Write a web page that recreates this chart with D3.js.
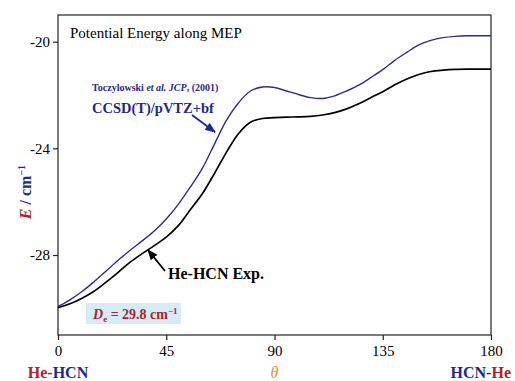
<!DOCTYPE html>
<html>
<head>
<meta charset="utf-8">
<script src="https://cdn.jsdelivr.net/npm/d3@7"></script>
<style>
  body { margin: 0; background: #fff; }
  text { font-family: "Liberation Serif", "Times New Roman", serif; }
</style>
</head>
<body>
<script>
// angle along the MEP (deg)
var theta = [0,5,10,15,20,25,30,35,40,45,50,55,60,65,70,75,80,85,90,95,100,105,110,115,120,125,130,135,140,145,150,155,160,165,170,175,180];
// CCSD(T)/pVTZ+bf (Toczylowski 2001)
var ccsd = [-29.93,-29.68,-29.37,-29.0,-28.6,-28.2,-27.82,-27.47,-27.1,-26.65,-26.1,-25.45,-24.75,-23.85,-22.95,-22.3,-21.85,-21.7,-21.72,-21.85,-21.98,-22.1,-22.13,-22.03,-21.85,-21.63,-21.35,-21.05,-20.7,-20.4,-20.12,-19.95,-19.85,-19.8,-19.78,-19.78,-19.78];
// He-HCN experiment
var expt = [-29.98,-29.83,-29.62,-29.36,-29.02,-28.65,-28.27,-27.95,-27.65,-27.33,-26.9,-26.3,-25.7,-24.95,-24.15,-23.45,-23.02,-22.88,-22.85,-22.83,-22.82,-22.8,-22.75,-22.66,-22.52,-22.33,-22.1,-21.88,-21.62,-21.4,-21.23,-21.12,-21.07,-21.04,-21.03,-21.03,-21.03];
var xTicks = [0,45,90,135,180];
var yTicks = [-20,-24,-28];

var width = 515, height = 381;
var pLeft = 58, pRight = 491, pTop = 15, pBottom = 335;

var svg = d3.select("body").append("svg")
    .attr("width", width)
    .attr("height", height);

var x = d3.scaleLinear().domain([0,180]).range([pLeft,pRight]);
var y = d3.scaleLinear().domain([-31,-19]).range([pBottom,pTop]);

var defs = svg.append("defs");
function marker(id, col){
  defs.append("marker")
    .attr("id", id)
    .attr("viewBox","0 0 10 10")
    .attr("refX",9).attr("refY",5)
    .attr("markerWidth",6).attr("markerHeight",6)
    .attr("orient","auto")
    .append("path").attr("d","M0,1 L10,5 L0,9 Z").attr("fill",col);
}
marker("ab","#1c2a8c");
marker("ak","#000");

// box
svg.append("rect")
    .attr("x",pLeft).attr("y",pTop)
    .attr("width",pRight-pLeft).attr("height",pBottom-pTop)
    .attr("fill","none").attr("stroke","#222").attr("stroke-width",1.2);

var xAxis = svg.append("g")
    .attr("transform","translate(0,"+pBottom+")")
    .call(d3.axisBottom(x).tickValues(xTicks).tickSize(5).tickPadding(5));
var yAxis = svg.append("g")
    .attr("transform","translate("+pLeft+",0)")
    .call(d3.axisLeft(y).tickValues(yTicks).tickSize(5).tickPadding(3).tickFormat(function(d){ return String(d); }));
[xAxis,yAxis].forEach(function(g){
  g.select(".domain").remove();
  g.selectAll("line").attr("stroke","#222").attr("stroke-width",1.2);
  g.selectAll("text").attr("font-family","Liberation Serif").attr("font-size",15).attr("fill","#000");
});

var pts = theta.map(function(t,i){ return {t:t, a:ccsd[i], b:expt[i]}; });
var lineA = d3.line().x(function(d){return x(d.t);}).y(function(d){return y(d.a);}).curve(d3.curveCatmullRom);
var lineB = d3.line().x(function(d){return x(d.t);}).y(function(d){return y(d.b);}).curve(d3.curveCatmullRom);

svg.append("path").datum(pts).attr("d",lineA)
    .attr("fill","none").attr("stroke","#2b2f86").attr("stroke-width",1.4);
svg.append("path").datum(pts).attr("d",lineB)
    .attr("fill","none").attr("stroke","#000").attr("stroke-width",1.7);

// title
svg.append("text").attr("x",70).attr("y",38)
    .attr("font-size",15).text("Potential Energy along MEP");

// ccsd label
var t1 = svg.append("text").attr("x",92).attr("y",91)
    .attr("font-size",10).attr("font-weight","bold").attr("fill","#1c2a8c");
t1.append("tspan").text("Toczylowski ");
t1.append("tspan").attr("font-style","italic").text("et al. JCP");
t1.append("tspan").text(", (2001)");
svg.append("text").attr("x",92).attr("y",113)
    .attr("font-size",14.5).attr("font-weight","bold").attr("fill","#1c2a8c")
    .text("CCSD(T)/pVTZ+bf");
svg.append("line").attr("x1",192).attr("y1",115).attr("x2",215).attr("y2",132)
    .attr("stroke","#1c2a8c").attr("stroke-width",1.8).attr("marker-end","url(#ab)");

// exp label
svg.append("text").attr("x",168).attr("y",279)
    .attr("font-size",16).attr("font-weight","bold").text("He-HCN Exp.");
svg.append("line").attr("x1",165).attr("y1",271).attr("x2",148).attr("y2",250)
    .attr("stroke","#000").attr("stroke-width",1.8).attr("marker-end","url(#ak)");

// De box
svg.append("rect").attr("x",86).attr("y",303).attr("width",95).attr("height",21)
    .attr("fill","#d6ebf8");
var de = svg.append("text").attr("x",93).attr("y",319)
    .attr("font-size",14).attr("font-weight","bold").attr("fill","#b0212a");
de.append("tspan").attr("font-style","italic").text("D");
de.append("tspan").attr("font-size",9).attr("dy",3).text("e");
de.append("tspan").attr("dy",-3).text(" = 29.8 cm");
de.append("tspan").attr("font-size",9).attr("dy",-5).text("\u22121");

// x end labels
function ends(xp, anchor, parts){
  var t = svg.append("text").attr("x",xp).attr("y",378).attr("text-anchor",anchor)
      .attr("font-size",16).attr("font-weight","bold");
  parts.forEach(function(p){ t.append("tspan").attr("fill",p[1]).text(p[0]); });
}
ends(x(0), "middle", [["He-","#b0212a"],["HCN","#1c2a8c"]]);
ends(511, "end", [["HCN-","#1c2a8c"],["He","#b0212a"]]);
svg.append("text").attr("x",x(90)).attr("y",378).attr("text-anchor","middle")
    .attr("font-size",16).attr("font-style","italic").attr("fill","#e0913c").text("\u03b8");

// y label
var yl = svg.append("text").attr("transform","translate(31,192) rotate(-90)")
    .attr("text-anchor","middle").attr("font-size",16).attr("font-weight","bold");
yl.append("tspan").attr("font-style","italic").attr("fill","#b0212a").text("E");
yl.append("tspan").attr("fill","#1c2a8c").text(" / cm");
yl.append("tspan").attr("fill","#1c2a8c").attr("font-size",10).attr("dy",-6).text("\u22121");
</script>
</body>
</html>
